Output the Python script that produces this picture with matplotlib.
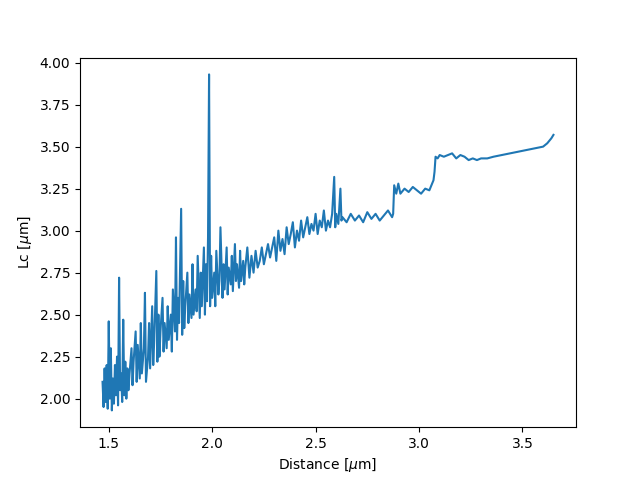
from matplotlib import pyplot as plt

trace = [
    (1.47, 2.10), (1.475, 1.95), (1.48, 2.18), (1.485, 1.98), (1.49, 2.20), (1.495, 1.94),
    (1.50, 2.46), (1.505, 2.00), (1.51, 2.30), (1.515, 1.93), (1.52, 2.12), (1.525, 1.97),
    (1.53, 2.20), (1.535, 2.02), (1.54, 2.25), (1.545, 1.96), (1.55, 2.72), (1.555, 2.05),
    (1.56, 2.15), (1.565, 1.98), (1.57, 2.47), (1.575, 2.02), (1.58, 2.22), (1.585, 2.00),
    (1.59, 2.18), (1.595, 2.05), (1.60, 2.14), (1.61, 2.30), (1.615, 2.08), (1.62, 2.22),
    (1.63, 2.40), (1.635, 2.10), (1.64, 2.32), (1.65, 2.12), (1.655, 2.45), (1.66, 2.15),
    (1.67, 2.30), (1.675, 2.63), (1.68, 2.10), (1.69, 2.25), (1.695, 2.45), (1.70, 2.18),
    (1.71, 2.55), (1.715, 2.20), (1.72, 2.35), (1.73, 2.76), (1.735, 2.22), (1.74, 2.50),
    (1.745, 2.25), (1.75, 2.40), (1.76, 2.60), (1.765, 2.28), (1.77, 2.45), (1.78, 2.30),
    (1.785, 2.55), (1.79, 2.35), (1.80, 2.50), (1.805, 2.28), (1.81, 2.65), (1.82, 2.40),
    (1.825, 2.96), (1.83, 2.35), (1.835, 2.60), (1.84, 2.45), (1.85, 3.13), (1.855, 2.38),
    (1.86, 2.70), (1.865, 2.42), (1.87, 2.55), (1.88, 2.75), (1.885, 2.45), (1.89, 2.62),
    (1.90, 2.48), (1.905, 2.80), (1.91, 2.50), (1.92, 2.65), (1.925, 2.52), (1.93, 2.85),
    (1.94, 2.48), (1.945, 2.75), (1.95, 2.55), (1.96, 2.90), (1.965, 2.50), (1.97, 2.80),
    (1.975, 2.58), (1.98, 2.96), (1.985, 3.93), (1.99, 2.55), (1.995, 2.85), (2.00, 2.60),
    (2.01, 2.75), (2.015, 2.55), (2.02, 2.88), (2.03, 2.62), (2.035, 2.70), (2.04, 3.02),
    (2.05, 2.60), (2.055, 2.80), (2.06, 2.65), (2.07, 2.90), (2.075, 2.62), (2.08, 2.78),
    (2.09, 2.68), (2.095, 2.85), (2.10, 2.64), (2.11, 2.92), (2.115, 2.70), (2.12, 2.80),
    (2.13, 2.66), (2.135, 2.88), (2.14, 2.70), (2.15, 2.82), (2.155, 2.68), (2.16, 2.78),
    (2.17, 2.90), (2.18, 2.72), (2.19, 2.85), (2.20, 2.75), (2.21, 2.88), (2.22, 2.78),
    (2.23, 2.82), (2.24, 2.90), (2.25, 2.80), (2.26, 2.86), (2.27, 2.92), (2.28, 2.84),
    (2.29, 2.90), (2.30, 2.96), (2.31, 2.82), (2.32, 3.00), (2.33, 2.88), (2.34, 2.95),
    (2.35, 2.86), (2.36, 3.02), (2.37, 2.92), (2.38, 2.98), (2.39, 3.05), (2.40, 2.90),
    (2.41, 3.00), (2.42, 2.94), (2.43, 3.06), (2.44, 2.96), (2.45, 3.02), (2.46, 3.08),
    (2.47, 2.98), (2.48, 3.04), (2.49, 3.00), (2.50, 3.10), (2.51, 2.98), (2.52, 3.06),
    (2.53, 3.02), (2.54, 3.12), (2.55, 3.00), (2.56, 3.06), (2.57, 3.02), (2.58, 3.10),
    (2.59, 3.32), (2.595, 3.02), (2.60, 3.10), (2.61, 3.04), (2.62, 3.25), (2.625, 3.06),
    (2.63, 3.08), (2.65, 3.05), (2.67, 3.10), (2.69, 3.06), (2.71, 3.09), (2.73, 3.05),
    (2.75, 3.11), (2.77, 3.07), (2.79, 3.10), (2.81, 3.06), (2.83, 3.09), (2.85, 3.12),
    (2.87, 3.08), (2.875, 3.10), (2.88, 3.27), (2.89, 3.22), (2.90, 3.28), (2.91, 3.22),
    (2.93, 3.25), (2.95, 3.23), (2.97, 3.26), (2.99, 3.24), (3.01, 3.22), (3.03, 3.25),
    (3.05, 3.24), (3.06, 3.27), (3.07, 3.30), (3.075, 3.35), (3.08, 3.44), (3.09, 3.43),
    (3.10, 3.45), (3.12, 3.44), (3.14, 3.45), (3.16, 3.46), (3.18, 3.43), (3.20, 3.45),
    (3.22, 3.44), (3.24, 3.42), (3.26, 3.43), (3.28, 3.42), (3.30, 3.43), (3.33, 3.43),
    (3.36, 3.44), (3.40, 3.45), (3.44, 3.46), (3.48, 3.47), (3.52, 3.48), (3.56, 3.49),
    (3.60, 3.50), (3.62, 3.52), (3.64, 3.55), (3.65, 3.57),
]
distance = [p[0] for p in trace]
lc = [p[1] for p in trace]

plt.figure(figsize=(6.4, 4.8), dpi=100)
plt.plot(distance, lc)
plt.xlabel(r'Distance [$\mu$m]')
plt.ylabel(r'Lc [$\mu$m]')
plt.savefig('out.png')
